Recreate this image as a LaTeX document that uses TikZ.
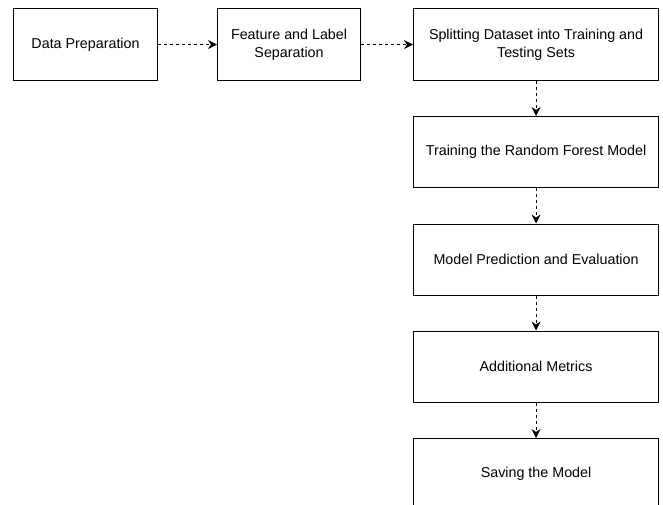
\documentclass[tikz,border=0pt]{standalone}
\usepackage{fontspec}
\setmainfont{Liberation Sans}
\usetikzlibrary{arrows.meta}
\begin{document}
\begin{tikzpicture}[x=1pt,y=-1pt,
  stepbox/.style={draw=black, line width=1.1pt, fill=white, inner sep=2pt,
    align=center, font=\fontsize{14.3}{18}\selectfont, anchor=north west},
  flow/.style={draw=black, line width=0.9pt, dash pattern=on 3pt off 3pt,
    -{Stealth[length=9pt,width=9pt,inset=3pt]}}]
\clip (0,0) rectangle (663,504);
\fill[white] (0,0) rectangle (663,504);
\node[stepbox, minimum width=144pt, minimum height=72pt] (a) at (13,8) {Data Preparation};
\node[stepbox, minimum width=143pt, minimum height=72pt] (b) at (217,8) {Feature and Label\\Separation};
\node[stepbox, minimum width=245pt, minimum height=72pt] (c) at (413,8) {Splitting Dataset into Training and\\Testing Sets};
\node[stepbox, minimum width=245pt, minimum height=71pt] (d) at (413,116) {Training the Random Forest Model};
\node[stepbox, minimum width=245pt, minimum height=71pt] (e) at (413,223.5) {Model Prediction and Evaluation};
\node[stepbox, minimum width=245pt, minimum height=71pt] (f) at (413,330.5) {Additional Metrics};
\node[stepbox, minimum width=245pt, minimum height=71pt] (g) at (413,438) {Saving the Model};
\draw[flow] (a) -- (b);
\draw[flow] (b) -- (c);
\draw[flow] (c) -- (d);
\draw[flow] (d) -- (e);
\draw[flow] (e) -- (f);
\draw[flow] (f) -- (g);
\end{tikzpicture}
\end{document}
